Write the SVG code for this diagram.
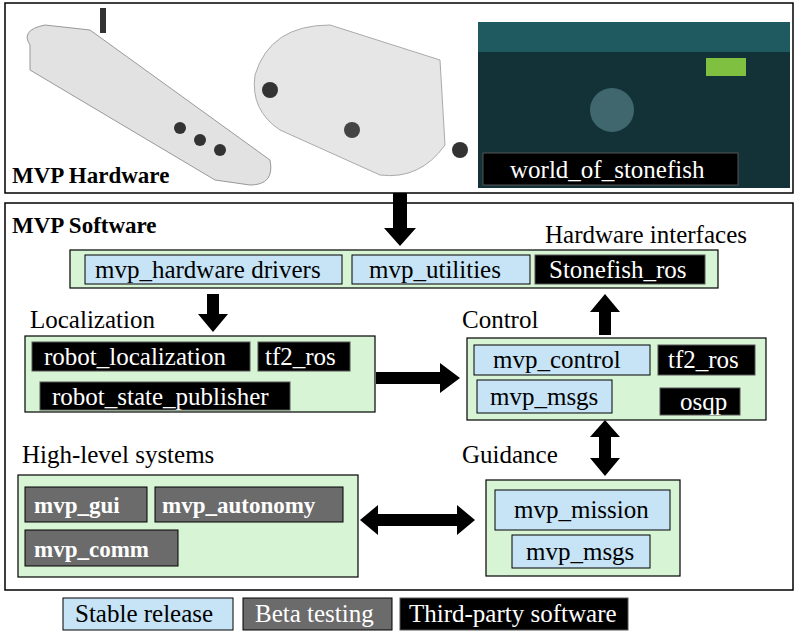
<svg xmlns="http://www.w3.org/2000/svg" width="798" height="637" viewBox="0 0 798 637">
<style>
text{font-family:"Liberation Serif","Times New Roman",serif;font-size:25px}
.frame{fill:#fff;stroke:#000;stroke-width:1.5}
.g{fill:#d7f5d5;stroke:#000;stroke-width:1.2}
.b{fill:#c6e4f5;stroke:#000;stroke-width:1}
.k{fill:#000;stroke:#555;stroke-width:1}
.y{fill:#6b6b6b;stroke:#000;stroke-width:1}
.w{fill:#fff}
.bw{fill:#fff;font-weight:bold;font-size:23px}
.h{font-weight:bold;font-size:23px}
.ar{fill:#000}
</style>
<rect width="798" height="637" fill="#fff"/>
<g id="hardware">
<rect class="frame" x="5" y="3" width="788" height="190"/>
<g id="photo1">
<path d="M30 45 Q20 30 45 25 L90 30 L270 160 Q275 185 250 185 L215 180 L30 70 Z" fill="#e2e2e2" stroke="#999"/>
<rect x="100" y="8" width="6" height="25" fill="#333"/>
<circle cx="200" cy="140" r="6" fill="#333"/><circle cx="220" cy="150" r="6" fill="#333"/><circle cx="180" cy="128" r="6" fill="#333"/>
</g>
<g id="photo2">
<path d="M255 75 Q270 25 330 25 L440 60 L445 145 Q420 180 380 175 L280 130 Q250 110 255 75 Z" fill="#e6e6e6" stroke="#aaa"/>
<circle cx="270" cy="90" r="8" fill="#333"/><circle cx="352" cy="130" r="8" fill="#444"/><circle cx="460" cy="150" r="8" fill="#333"/>
</g>
<g id="photo3">
<rect x="478" y="22" width="312" height="166" fill="#123238"/>
<rect x="478" y="22" width="312" height="30" fill="#1f5a60"/>
<circle cx="612" cy="110" r="22" fill="#5f8a92" opacity="0.6"/>
<rect x="706" y="58" width="40" height="18" fill="#7fc040"/>
</g>
<text class="h" x="12" y="183">MVP Hardware</text>
<rect class="k" x="483" y="153" width="255" height="32"/>
<text class="w" x="510" y="178">world_of_stonefish</text>
</g>
<g id="software">
<rect class="frame" x="5" y="203" width="788" height="387"/>
<text class="h" x="12" y="233">MVP Software</text>
</g>
<g id="hwif">
<text x="545" y="243">Hardware interfaces</text>
<rect class="g" x="70" y="250" width="648" height="38"/>
<rect class="b" x="85" y="255" width="257" height="29"/><text x="95" y="278">mvp_hardware drivers</text>
<rect class="b" x="352" y="255" width="178" height="29"/><text x="369" y="278">mvp_utilities</text>
<rect class="k" x="535" y="255" width="170" height="29"/><text class="w" x="549" y="278">Stonefish_ros</text>
</g>
<g id="localization">
<text x="30" y="328">Localization</text>
<rect class="g" x="25" y="336" width="350" height="76"/>
<rect class="k" x="32" y="342" width="218" height="29"/><text class="w" x="44" y="365">robot_localization</text>
<rect class="k" x="258" y="342" width="92" height="29"/><text class="w" x="265" y="365">tf2_ros</text>
<rect class="k" x="40" y="382" width="250" height="28"/><text class="w" x="52" y="405">robot_state_publisher</text>
</g>
<g id="control">
<text x="462" y="328">Control</text>
<rect class="g" x="467" y="338" width="299" height="82"/>
<rect class="b" x="474" y="345" width="176" height="30"/><text x="493" y="368">mvp_control</text>
<rect class="k" x="658" y="345" width="97" height="30"/><text class="w" x="668" y="368">tf2_ros</text>
<rect class="b" x="477" y="380" width="135" height="33"/><text x="490" y="405">mvp_msgs</text>
<rect class="k" x="660" y="388" width="80" height="27"/><text class="w" x="680" y="410">osqp</text>
</g>
<g id="guidance">
<text x="462" y="463">Guidance</text>
<rect class="g" x="486" y="480" width="194" height="96"/>
<rect class="b" x="495" y="490" width="175" height="40"/><text x="514" y="518">mvp_mission</text>
<rect class="b" x="512" y="535" width="138" height="33"/><text x="526" y="560">mvp_msgs</text>
</g>
<g id="highlevel">
<text x="22" y="463">High-level systems</text>
<rect class="g" x="18" y="475" width="340" height="102"/>
<rect class="y" x="25" y="487" width="122" height="35"/><text class="bw" x="34" y="513">mvp_gui</text>
<rect class="y" x="155" y="487" width="188" height="35"/><text class="bw" x="162" y="513">mvp_autonomy</text>
<rect class="y" x="25" y="530" width="153" height="36"/><text class="bw" x="34" y="557">mvp_comm</text>
</g>
<g id="legend">
<rect class="b" x="63" y="598" width="170" height="32"/><text x="75" y="622">Stable release</text>
<rect class="y" x="243" y="598" width="149" height="32"/><text class="w" x="255" y="622">Beta testing</text>
<rect class="k" x="400" y="598" width="228" height="32"/><text class="w" x="409" y="622">Third-party software</text>
</g>
<g id="connectors">
<polygon class="ar" points="393,193 407,193 407,228 416,228 400,246 384,228 393,228"/>
<polygon class="ar" points="207,294 219,294 219,314 228,314 213,332 198,314 207,314"/>
<polygon class="ar" points="599,335 611,335 611,312 620,312 605,294 590,312 599,312"/>
<polygon class="ar" points="376,372 440,372 440,363 460,378 440,393 440,384 376,384"/>
<polygon class="ar" points="599,437 590,437 605,420 620,437 611,437 611,458 620,458 605,476 590,458 599,458"/>
<polygon class="ar" points="378,514 378,505 360,520 378,535 378,526 457,526 457,535 475,520 457,505 457,514"/>
</g>
</svg>
